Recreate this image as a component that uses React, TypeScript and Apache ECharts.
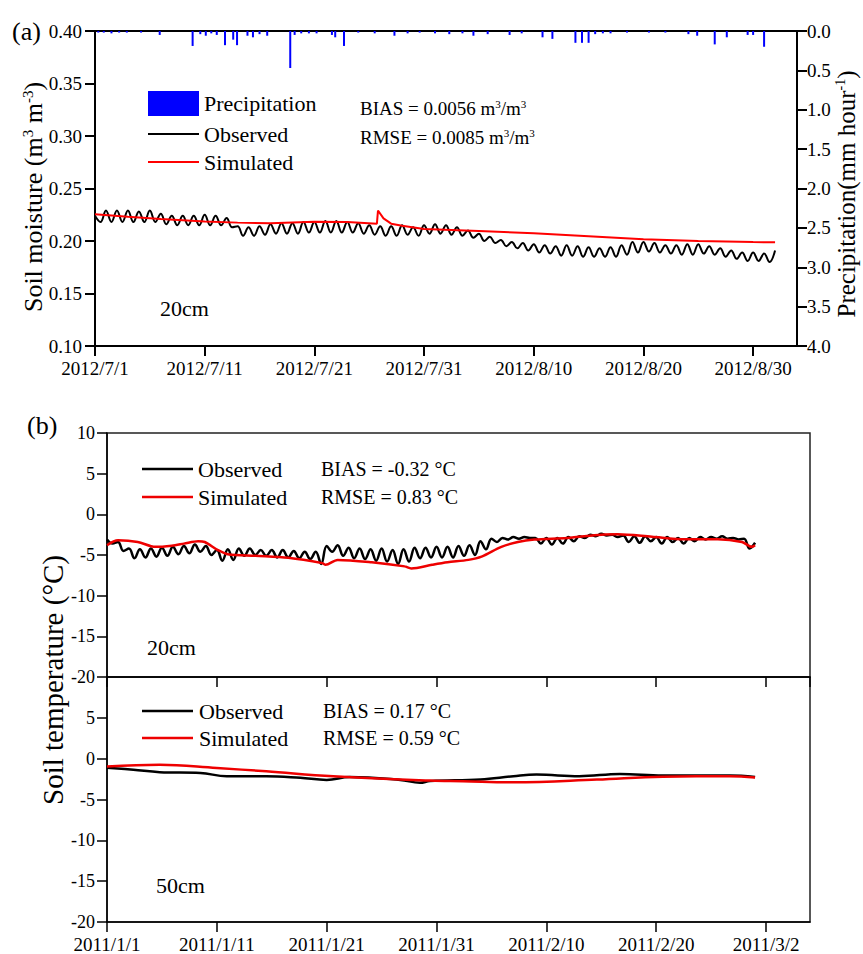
import React, { useEffect, useRef } from 'react';
import * as echarts from 'echarts';

const FONT = 'Liberation Serif';

// ---------- tick labels ----------
const moistureDateLabels = ['2012/7/1', '2012/7/11', '2012/7/21', '2012/7/31', '2012/8/10', '2012/8/20', '2012/8/30'];
const tempDateLabels = ['2011/1/1', '2011/1/11', '2011/1/21', '2011/1/31', '2011/2/10', '2011/2/20', '2011/3/2'];

// ---------- panel (a): soil moisture 20 cm ----------
// observed, 12-hour steps from day 0 (alternating daily high / low)
const moistureObserved = [
  0.224, 0.218, 0.229, 0.218, 0.229, 0.218, 0.229, 0.218, 0.228, 0.218,
  0.229, 0.218, 0.226, 0.216, 0.224, 0.215, 0.224, 0.215, 0.224, 0.215,
  0.225, 0.215, 0.224, 0.215, 0.222, 0.213, 0.214, 0.205, 0.213, 0.205,
  0.214, 0.206, 0.216, 0.207, 0.217, 0.207, 0.217, 0.207, 0.218, 0.208,
  0.218, 0.208, 0.219, 0.208, 0.219, 0.208, 0.218, 0.208, 0.217, 0.207,
  0.215, 0.206, 0.214, 0.205, 0.214, 0.205, 0.215, 0.206, 0.213, 0.205,
  0.215, 0.207, 0.216, 0.207, 0.215, 0.206, 0.213, 0.205, 0.210, 0.203,
  0.207, 0.200, 0.204, 0.198, 0.201, 0.195, 0.199, 0.193, 0.198, 0.191,
  0.197, 0.189, 0.196, 0.188, 0.195, 0.186, 0.196, 0.186, 0.195, 0.185,
  0.194, 0.185, 0.193, 0.185, 0.194, 0.185, 0.196, 0.187, 0.199, 0.189,
  0.199, 0.190, 0.198, 0.189, 0.196, 0.188, 0.196, 0.187, 0.197, 0.187,
  0.197, 0.188, 0.195, 0.187, 0.193, 0.185, 0.191, 0.183, 0.189, 0.181,
  0.189, 0.181, 0.188, 0.180, 0.191,
];
// simulated: [day, value]
const moistureSimulated: [number, number][] = [
  [0, 0.2255], [3, 0.223], [6, 0.221], [10, 0.2185], [13, 0.2175], [16, 0.217],
  [20, 0.2183], [23, 0.218], [25.7, 0.2165], [25.8, 0.229], [26.3, 0.2215], [27, 0.2165],
  [28, 0.2145], [30, 0.2115], [35, 0.2095], [40, 0.2073], [45, 0.2045], [50, 0.2016],
  [55, 0.2], [60, 0.199], [62, 0.1988],
];
// precipitation: [day, mm/hour]
const precipitation: [number, number][] = [
  [0.3, 0.02], [0.8, 0.02], [1.5, 0.03], [2.2, 0.02], [2.9, 0.02], [4.2, 0.02], [5.9, 0.05],
  [8.9, 0.19], [9.6, 0.04], [10.1, 0.06], [10.6, 0.03], [11.1, 0.05], [11.85, 0.18],
  [12.6, 0.11], [12.95, 0.18], [13.9, 0.06], [14.4, 0.08], [15.0, 0.04], [15.7, 0.06],
  [17.8, 0.47], [18.2, 0.05], [18.8, 0.03], [19.5, 0.03], [20.2, 0.03], [21.6, 0.05],
  [21.9, 0.08], [22.7, 0.19], [24.0, 0.02], [25.5, 0.03], [27.3, 0.06], [28.5, 0.03],
  [29.6, 0.02], [31.0, 0.03], [32.3, 0.04], [33.5, 0.03], [34.5, 0.06], [35.8, 0.04],
  [37.8, 0.05], [38.9, 0.03], [40.8, 0.08], [41.7, 0.1], [43.8, 0.15], [44.4, 0.15],
  [45.0, 0.15], [45.6, 0.04], [46.3, 0.03], [47.0, 0.03], [48.5, 0.02], [50.5, 0.02],
  [52.0, 0.02], [54.1, 0.04], [54.9, 0.06], [56.5, 0.17], [57.6, 0.08], [59.5, 0.05],
  [60.0, 0.05], [61.0, 0.2],
];

// ---------- panel (b): soil temperature 20 cm ----------
// observed, 12-hour steps from day 0 (alternating daily high / low)
const temp20Observed = [
  -3.1, -3.6, -3.4, -4.5, -4.2, -5.4, -4.3, -5.3, -4.2, -5.2, -4.1, -5.1, -4.0, -4.9, -3.9, -4.8, -3.7, -4.6, -3.9, -5.0,
  -4.4, -5.7, -4.3, -5.6, -4.2, -5.1, -4.2, -5.0, -4.4, -5.1, -4.4, -5.3, -4.4, -5.3, -4.5, -5.4, -4.6, -5.5, -4.6, -6.1,
  -3.9, -4.6, -3.8, -5.1, -4.1, -5.4, -4.2, -5.5, -4.3, -5.7, -4.2, -5.8, -4.4, -6.1, -4.3, -5.8, -4.1, -5.4, -4.1, -5.3,
  -4.0, -5.3, -4.0, -5.3, -3.9, -5.1, -3.8, -5.0, -3.3, -4.3, -3.0, -3.4, -2.9, -3.1, -2.8, -3.0, -2.8, -2.9, -2.9, -3.6,
  -2.9, -3.7, -2.9, -3.6, -2.8, -3.3, -2.7, -2.9, -2.5, -2.7, -2.4, -2.6, -2.5, -2.8, -2.6, -3.4, -2.7, -3.5, -2.7, -3.3,
  -2.8, -3.6, -2.8, -3.4, -2.9, -3.6, -2.9, -3.3, -2.8, -3.1, -2.8, -3.0, -2.7, -3.0, -2.9, -3.1, -3.0, -4.2, -3.5,
];
const temp20Simulated: [number, number][] = [
  [0, -3.8], [1, -3.2], [2.8, -3.4], [4.4, -4.0], [5.9, -3.85], [7, -3.6], [8.3, -3.3], [8.9, -3.4],
  [10.1, -4.4], [11, -4.9], [13.5, -5.1], [16.5, -5.35], [19.6, -6.0], [19.9, -6.2], [21, -5.6],
  [24.1, -5.9], [27.1, -6.4], [27.7, -6.65], [29.6, -6.2], [31, -5.9], [32.9, -5.6], [34.1, -5.2],
  [35.9, -4.0], [37.4, -3.4], [38.9, -3.1], [41.9, -2.9], [45, -2.5], [46.5, -2.45], [49.6, -2.75],
  [52.6, -3.05], [55.6, -3.05], [57.8, -3.4], [58.7, -4.0], [59, -3.8],
];

// ---------- panel (b): soil temperature 50 cm ----------
const temp50Observed: [number, number][] = [
  [0, -1.1], [2.4, -1.35], [4.8, -1.65], [8.5, -1.75], [10.9, -2.15], [14.5, -2.15], [17.6, -2.35],
  [20, -2.6], [22.1, -2.25], [26.7, -2.6], [28.5, -2.95], [29.4, -2.75], [34, -2.55], [37, -2.15],
  [39.1, -1.95], [43, -2.15], [46.7, -1.87], [50.6, -2.07], [56.7, -2.07], [59, -2.24],
];
const temp50Simulated: [number, number][] = [
  [0, -0.95], [4.8, -0.75], [10, -1.15], [14.5, -1.55], [20.6, -2.15], [29.4, -2.68], [32.4, -2.76],
  [37, -2.89], [44.6, -2.56], [50.6, -2.2], [56.7, -2.16], [59, -2.3],
];

const halfDaySeries = (vals: number[]) => vals.map((v, i) => [i * 0.5, v]);

const dateFormatter = (labels: string[]) => (v: number) => {
  const idx = Math.round(v / 10);
  return Math.abs(v - idx * 10) < 1e-6 && labels[idx] !== undefined ? labels[idx] : '';
};

function xAxisCfg(gridIndex: number, labels: string[] | null, lw: number) {
  return {
    gridIndex,
    type: 'value',
    min: 0,
    max: 64,
    interval: 10,
    axisLine: { onZero: false, lineStyle: { color: '#000', width: lw } },
    axisTick: { show: true, length: 10, lineStyle: { color: '#000', width: lw } },
    splitLine: { show: false },
    axisLabel: labels
      ? { show: true, formatter: dateFormatter(labels), fontSize: 19, fontFamily: FONT, color: '#000', margin: 13, showMaxLabel: false }
      : { show: false },
  };
}

function yAxisCfg(gridIndex: number, min: number, max: number, interval: number, digits: number, lw: number, extra: any = {}) {
  return {
    gridIndex,
    type: 'value',
    min,
    max,
    interval,
    axisLine: { show: true, onZero: false, lineStyle: { color: '#000', width: lw } },
    axisTick: { show: true, length: 10, lineStyle: { color: '#000', width: lw } },
    splitLine: { show: false },
    axisLabel: {
      fontSize: 19,
      fontFamily: FONT,
      color: '#000',
      margin: 13,
      formatter: (v: number) => v.toFixed(digits),
      ...(extra.axisLabel || {}),
    },
    ...extra.rest,
  };
}

const txt = (x: number, y: number, text: string, fontSize: number, align = 'left', extra: any = {}) => ({
  type: 'text',
  x,
  y,
  ...extra,
  style: {
    text,
    fontSize,
    fontFamily: FONT,
    fill: '#000',
    align,
    textAlign: align,
    verticalAlign: 'middle',
    textVerticalAlign: 'middle',
    ...(extra.style || {}),
  },
});

const richTxt = (x: number, y: number, text: string, fontSize: number, supSize: number, align = 'left', rotation = 0) => ({
  type: 'text',
  x,
  y,
  rotation,
  style: {
    text,
    align,
    textAlign: align,
    verticalAlign: 'middle',
    textVerticalAlign: 'middle',
    fill: '#000',
    rich: {
      n: { fontSize, fontFamily: FONT, fill: '#000', color: '#000' },
      s: { fontSize: supSize, fontFamily: FONT, fill: '#000', color: '#000', verticalAlign: 'top' },
    },
  },
});

const legLine = (x1: number, x2: number, y: number, color: string, w: number) => ({
  type: 'line',
  shape: { x1, y1: y, x2, y2: y },
  style: { stroke: color, lineWidth: w },
});

export default function App() {
  const ref = useRef<HTMLDivElement>(null);

  useEffect(() => {
    if (!ref.current) return;
    const chart = echarts.init(ref.current, null, { renderer: 'svg' });
    const option: any = {
      animation: false,
      backgroundColor: '#fff',
      textStyle: { fontFamily: FONT },
      grid: [
        { left: 95, top: 31, width: 702, height: 315, show: true, borderColor: '#000', borderWidth: 2, backgroundColor: 'transparent' },
        { left: 107, top: 433, width: 703, height: 244, show: true, borderColor: '#222', borderWidth: 1.5, backgroundColor: 'transparent' },
        { left: 107, top: 677, width: 703, height: 246, show: true, borderColor: '#222', borderWidth: 1.5, backgroundColor: 'transparent' },
      ],
      xAxis: [
        xAxisCfg(0, moistureDateLabels, 2),
        xAxisCfg(1, null, 1.5),
        xAxisCfg(2, tempDateLabels, 1.5),
      ],
      yAxis: [
        yAxisCfg(0, 0.1, 0.4, 0.05, 2, 2),
        yAxisCfg(0, 0, 4, 0.5, 1, 2, { rest: { position: 'right', inverse: true }, axisLabel: { margin: 10 } }),
        yAxisCfg(1, -20, 10, 5, 0, 1.5, { axisLabel: { fontSize: 18, margin: 12 } }),
        yAxisCfg(2, -20, 10, 5, 0, 1.5, { axisLabel: { fontSize: 18, margin: 12, showMaxLabel: false } }),
      ],
      series: [
        {
          name: 'Precipitation',
          type: 'bar',
          xAxisIndex: 0,
          yAxisIndex: 1,
          data: precipitation,
          barWidth: 2,
          itemStyle: { color: '#0000ff' },
        },
        {
          name: 'Observed',
          type: 'line',
          xAxisIndex: 0,
          yAxisIndex: 0,
          data: halfDaySeries(moistureObserved),
          showSymbol: false,
          smooth: 0.4,
          lineStyle: { color: '#000', width: 2 },
          itemStyle: { color: '#000' },
        },
        {
          name: 'Simulated',
          type: 'line',
          xAxisIndex: 0,
          yAxisIndex: 0,
          data: moistureSimulated,
          showSymbol: false,
          lineStyle: { color: '#ff0000', width: 2 },
          itemStyle: { color: '#ff0000' },
        },
        {
          name: 'Observed',
          type: 'line',
          xAxisIndex: 1,
          yAxisIndex: 2,
          data: halfDaySeries(temp20Observed),
          showSymbol: false,
          smooth: 0.4,
          lineStyle: { color: '#000', width: 2.5 },
          itemStyle: { color: '#000' },
        },
        {
          name: 'Simulated',
          type: 'line',
          xAxisIndex: 1,
          yAxisIndex: 2,
          data: temp20Simulated,
          showSymbol: false,
          smooth: 0.3,
          lineStyle: { color: '#ee0000', width: 2.5 },
          itemStyle: { color: '#ee0000' },
        },
        {
          name: 'Observed',
          type: 'line',
          xAxisIndex: 2,
          yAxisIndex: 3,
          data: temp50Observed,
          showSymbol: false,
          smooth: 0.4,
          lineStyle: { color: '#000', width: 2.5 },
          itemStyle: { color: '#000' },
        },
        {
          name: 'Simulated',
          type: 'line',
          xAxisIndex: 2,
          yAxisIndex: 3,
          data: temp50Simulated,
          showSymbol: false,
          smooth: 0.4,
          lineStyle: { color: '#ee0000', width: 2.5 },
          itemStyle: { color: '#ee0000' },
        },
      ],
      graphic: [
        // panel (a)
        txt(12, 31, '(a)', 26),
        richTxt(33, 197, '{n|Soil moisture (m}{s|3}{n| m}{s|-3}{n|)}', 26, 15, 'center', Math.PI / 2),
        richTxt(846, 194, '{n|Precipitation(mm hour}{s|-1}{n|)}', 25, 14, 'center', Math.PI / 2),
        { type: 'rect', shape: { x: 148, y: 91, width: 51, height: 25 }, style: { fill: '#0000ff' } },
        txt(204, 103, 'Precipitation', 22),
        legLine(148, 199, 134, '#000', 2),
        txt(204, 134, 'Observed', 22),
        legLine(148, 199, 162, '#ff0000', 2),
        txt(204, 162, 'Simulated', 22),
        richTxt(360, 108, '{n|BIAS = 0.0056 m}{s|3}{n|/m}{s|3}', 19, 11),
        richTxt(360, 137, '{n|RMSE = 0.0085 m}{s|3}{n|/m}{s|3}', 19, 11),
        txt(160, 308, '20cm', 22),
        // panel (b)
        txt(27, 425, '(b)', 26),
        txt(53, 680, 'Soil temperature (°C)', 29, 'center', { rotation: Math.PI / 2 }),
        legLine(142, 193, 469, '#000', 2.5),
        txt(198, 469, 'Observed', 22),
        legLine(142, 193, 497, '#ee0000', 2.5),
        txt(198, 497, 'Simulated', 22),
        txt(321, 469, 'BIAS = -0.32 °C', 20),
        txt(321, 497, 'RMSE = 0.83 °C', 20),
        txt(147, 647, '20cm', 22),
        legLine(142, 193, 711, '#000', 2.5),
        txt(199, 711, 'Observed', 22),
        legLine(142, 193, 738, '#ee0000', 2.5),
        txt(199, 738, 'Simulated', 22),
        txt(323, 711, 'BIAS = 0.17 °C', 20),
        txt(323, 738, 'RMSE = 0.59 °C', 20),
        txt(156, 885, '50cm', 22),
      ],
    };
    chart.setOption(option);
    return () => chart.dispose();
  }, []);

  return (
    <div
      ref={ref}
      style={{ position: 'absolute', left: 0, top: 0, width: 863, height: 954, background: '#fff' }}
    />
  );
}
